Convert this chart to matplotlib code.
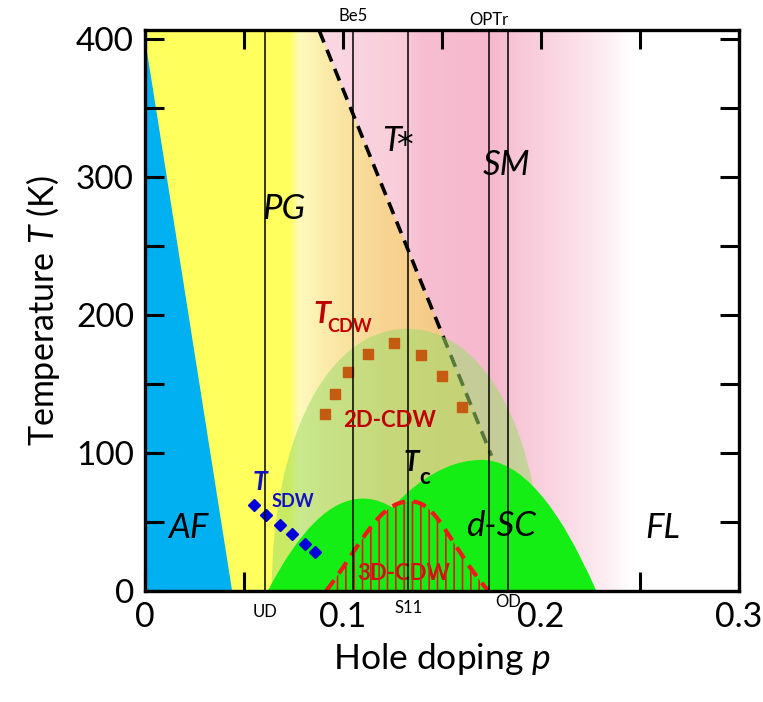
import numpy as np
import matplotlib.pyplot as plt
from matplotlib.path import Path
from matplotlib.patches import PathPatch, Polygon
from matplotlib.ticker import MultipleLocator, FuncFormatter

plt.rcParams['font.family'] = ['Lato', 'DejaVu Sans']
plt.rcParams['mathtext.fontset'] = 'custom'
plt.rcParams['mathtext.rm'] = 'Lato'
plt.rcParams['mathtext.it'] = 'Lato:italic'
plt.rcParams['mathtext.bf'] = 'Lato:bold'
plt.rcParams['hatch.linewidth'] = 1.2

# ---- values ----
p_max, t_max = 0.3, 406.5

# AF wedge
af_p = [0.0, 0.0, 0.044]
af_t = [0.0, 400.0, 0.0]

# T* crossover, dashed line end points
tstar_p = [0.088, 0.175]
tstar_t = [406.0, 98.0]

# T_CDW (squares)
cdw_p = [0.091, 0.096, 0.1027, 0.1128, 0.1259, 0.1394, 0.1498, 0.160]
cdw_t = [128, 143, 159, 172, 180, 171, 156, 133]

# T_SDW (diamonds)
sdw_p = [0.0552, 0.0612, 0.0682, 0.0744, 0.0808, 0.0859]
sdw_t = [62, 55, 47.5, 41, 34, 28]

# samples (vertical lines)
sample_p = [0.0605, 0.105, 0.133, 0.1735, 0.1835]
sample_names = ['UD', 'Be5', 'S11', 'OPTr', 'OD']

# dome outlines as bezier control points (p, T)
dome_2d = [(0.064, 0), (0.064, 110), (0.092, 190), (0.1325, 190),
           (0.173, 190), (0.201, 110), (0.201, 0)]
dome_sc_left = [(0.062, 0), (0.086, 67), (0.110, 67), (0.134, 67), (0.158, 0)]
dome_sc_right = [(0.095, 0), (0.1325, 95), (0.170, 95), (0.199, 95), (0.228, 0)]
dome_3d = [(0.0915, 0), (0.110, 35), (0.118, 65), (0.134, 65),
           (0.148, 65), (0.154, 32), (0.1735, 0)]


def bezier_path(pts, order, closed=True):
    code = Path.CURVE4 if order == 3 else Path.CURVE3
    codes = [Path.MOVETO] + [code] * (len(pts) - 1)
    verts = list(pts)
    if closed:
        verts.append(pts[0])
        codes.append(Path.CLOSEPOLY)
    return Path(verts, codes)


def gradient(x, stops, cols):
    cols = np.array(cols) / 255.0
    return np.stack([np.interp(x, stops, cols[:, i]) for i in range(3)], axis=-1)


def main():
    fig = plt.figure(figsize=(7.63, 7.02), dpi=100)
    ax = fig.add_axes([145 / 763, 1 - 591 / 702, 594 / 763, 561 / 702])

    # background: PG side (yellow -> orange) and SM side (pink -> white)
    pp = np.linspace(0, p_max, 900)
    tt = np.linspace(0, t_max, 700)
    P, TT = np.meshgrid(pp, tt)
    left = gradient(P, [0, 0.073, 0.078, 0.09, 0.12, 0.16, 0.3],
                    [(255, 255, 94), (255, 255, 94), (255, 250, 190), (252, 236, 172),
                     (248, 212, 146), (245, 198, 132), (245, 198, 132)])
    right = gradient(P, [0, 0.1, 0.13, 0.14, 0.175, 0.19, 0.215, 0.235, 0.245, 0.3],
                     [(250, 218, 228), (250, 214, 226), (249, 204, 218), (247, 190, 209),
                      (246, 184, 205), (248, 200, 216), (251, 220, 231), (253, 240, 244),
                      (255, 255, 255), (255, 255, 255)])
    slope = (tstar_t[1] - tstar_t[0]) / (tstar_p[1] - tstar_p[0])
    boundary = tstar_t[0] + slope * (P - tstar_p[0])
    img = np.where((TT > boundary)[..., None], right, left)
    ax.imshow(img, extent=[0, p_max, 0, t_max], origin='lower', aspect='auto',
              interpolation='bilinear', zorder=0)

    ax.add_patch(Polygon(list(zip(af_p, af_t)), closed=True, facecolor='#00B0F0',
                         edgecolor='none', zorder=1))

    ax.plot(tstar_p, tstar_t, color='black', lw=2.6, dashes=(3.5, 2.2),
            solid_capstyle='butt', zorder=2)

    ax.add_patch(PathPatch(bezier_path(dome_2d, 3), facecolor='#9EDC6A', alpha=0.55,
                           edgecolor='none', zorder=3))

    ax.plot(cdw_p, cdw_t, 's', color='#C55A11', ms=7.5, zorder=4)

    for dome in (dome_sc_left, dome_sc_right):
        ax.add_patch(PathPatch(bezier_path(dome, 2), facecolor='#14EE14',
                               edgecolor='none', zorder=5))

    ax.plot(sdw_p, sdw_t, 'D', color='#0000D8', ms=6, zorder=5.2)

    ax.text(0.1305, 12.8, '3D-CDW', color='#D01010', fontsize=16, fontweight='bold',
            ha='center', va='center', zorder=5.5)
    ax.add_patch(PathPatch(bezier_path(dome_3d, 3), facecolor='none',
                           edgecolor='#E8161B', lw=0, hatch='||', zorder=6))
    ax.add_patch(PathPatch(bezier_path(dome_3d, 3, closed=False), fill=False,
                           edgecolor='#F01818', lw=3, linestyle=(0, (3.2, 2.0)),
                           zorder=6))

    # sample lines and their names
    label_t = [-15, 417, -12, 414, -8]
    for xp, name, lt in zip(sample_p, sample_names, label_t):
        ax.axvline(xp, color='black', lw=1.1, zorder=7)
        ax.text(xp, lt, name, fontsize=12, ha='center', va='center', clip_on=False)

    # region labels
    for txt, xp, yp in [('AF', 0.0219, 46), ('PG', 0.0699, 277),
                        ('SM', 0.1827, 309), ('d-SC', 0.180, 47), ('FL', 0.2616, 46)]:
        ax.text(xp, yp, txt, fontsize=25, style='italic', ha='center', va='center',
                zorder=8)
    ax.text(0.1245, 326, 'T', fontsize=25, style='italic', ha='center', va='center',
            zorder=8)
    ax.text(0.1312, 322, '*', fontsize=24, family='DejaVu Sans', ha='center',
            va='center', zorder=8)

    ax.text(0.1237, 123.4, '2D-CDW', color='#C00000', fontsize=16, fontweight='bold',
            ha='center', va='center', zorder=8)
    ax.text(0.0892, 201, 'T', color='#C00000', fontsize=22, fontweight='bold',
            style='italic', ha='center', va='center', zorder=8)
    ax.text(0.1035, 191.5, 'CDW', color='#C00000', fontsize=13, fontweight='bold',
            ha='center', va='center', zorder=8)
    ax.text(0.1347, 92.5, 'T', color='black', fontsize=20, fontweight='bold',
            style='italic', ha='center', va='center', zorder=8)
    ax.text(0.1414, 82.4, 'c', color='black', fontsize=16, fontweight='bold',
            ha='center', va='center', zorder=8)
    ax.text(0.0581, 79.2, 'T', color='#1010C0', fontsize=19, fontweight='bold',
            style='italic', ha='center', va='center', zorder=8)
    ax.text(0.0749, 65.2, 'SDW', color='#1010C0', fontsize=13, fontweight='bold',
            ha='center', va='center', zorder=8)

    ax.set_xlim(0, p_max)
    ax.set_ylim(0, t_max)
    ax.xaxis.set_major_locator(MultipleLocator(0.05))
    ax.yaxis.set_major_locator(MultipleLocator(50))
    ax.xaxis.set_major_formatter(FuncFormatter(
        lambda v, _: ('0' if abs(v) < 1e-9 else '%.1f' % v) if abs(v * 10 - round(v * 10)) < 1e-6 else ''))
    ax.yaxis.set_major_formatter(FuncFormatter(
        lambda v, _: '%d' % v if int(round(v)) % 100 == 0 else ''))
    ax.tick_params(direction='in', length=14, width=2.2, top=True, right=True)
    ax.tick_params(axis='x', labelsize=24.5, pad=7)
    ax.tick_params(axis='y', labelsize=24, pad=8)
    for s in ax.spines.values():
        s.set_linewidth(2.4)
        s.set_zorder(10)

    ax.set_xlabel('Hole doping $\\mathit{p}$', fontsize=25.5, labelpad=6)
    ax.set_ylabel('Temperature $\\mathit{T}$ (K)', fontsize=24.5, labelpad=10)

    fig.savefig('out.png', dpi=100)


if __name__ == "__main__":
    main()
